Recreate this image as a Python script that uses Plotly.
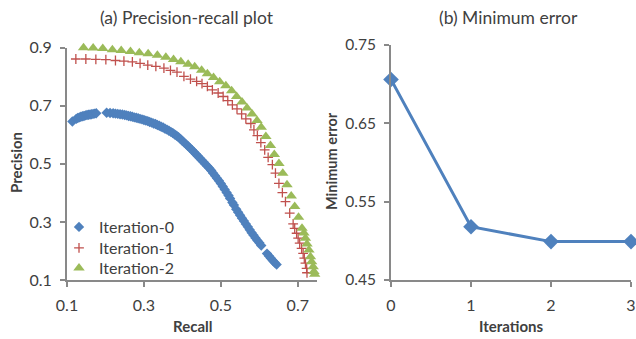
import plotly.graph_objects as go

# ---- data ----
it0_recall = [0.114, 0.124, 0.128, 0.132, 0.136, 0.140, 0.144, 0.148, 0.152, 0.156, 0.160, 0.164, 0.168, 0.172, 0.176,
              0.203, 0.212, 0.220, 0.226, 0.232, 0.238, 0.244, 0.250, 0.255, 0.260, 0.265, 0.270, 0.275, 0.280, 0.285,
              0.290, 0.295, 0.300, 0.305, 0.310, 0.315, 0.320, 0.325, 0.330, 0.335, 0.340, 0.345, 0.350, 0.355, 0.360,
              0.365, 0.370, 0.375, 0.380, 0.385, 0.390, 0.395, 0.400, 0.405, 0.410, 0.415, 0.420, 0.425, 0.430, 0.435,
              0.440, 0.445, 0.450, 0.455, 0.460, 0.465, 0.470, 0.475, 0.480, 0.485, 0.490, 0.495, 0.500, 0.505, 0.510,
              0.515, 0.520, 0.524, 0.530, 0.534, 0.540, 0.545, 0.550, 0.555, 0.560, 0.565, 0.570, 0.575, 0.580, 0.585,
              0.590, 0.595, 0.600, 0.605, 0.620, 0.625, 0.630, 0.635, 0.640, 0.645]
it0_precision = [0.646, 0.655, 0.658, 0.660, 0.662, 0.664, 0.665, 0.667, 0.668, 0.669, 0.670, 0.671, 0.672, 0.673, 0.674,
                 0.676, 0.675, 0.674, 0.673, 0.672, 0.671, 0.670, 0.668, 0.667, 0.665, 0.664, 0.662, 0.660, 0.659, 0.657,
                 0.655, 0.653, 0.651, 0.649, 0.647, 0.644, 0.642, 0.639, 0.637, 0.634, 0.631, 0.628, 0.625, 0.621, 0.618,
                 0.614, 0.610, 0.606, 0.601, 0.597, 0.592, 0.586, 0.579, 0.573, 0.567, 0.561, 0.554, 0.548, 0.541, 0.534,
                 0.527, 0.520, 0.513, 0.506, 0.499, 0.492, 0.485, 0.477, 0.468, 0.459, 0.450, 0.442, 0.432, 0.422, 0.412,
                 0.401, 0.391, 0.381, 0.367, 0.358, 0.344, 0.333, 0.323, 0.313, 0.303, 0.293, 0.283, 0.273, 0.263, 0.254,
                 0.245, 0.236, 0.228, 0.219, 0.191, 0.183, 0.175, 0.167, 0.160, 0.153]

it1_recall = [0.123, 0.149, 0.175, 0.201, 0.226, 0.248, 0.270, 0.290, 0.310, 0.331, 0.352, 0.369, 0.386, 0.404,
              0.421, 0.437, 0.451, 0.465, 0.478, 0.493, 0.506, 0.518, 0.530, 0.542, 0.554, 0.565, 0.578, 0.586,
              0.595, 0.604, 0.614, 0.623, 0.634, 0.642, 0.651, 0.660, 0.668, 0.679, 0.688, 0.692, 0.697, 0.701,
              0.705, 0.710, 0.714, 0.717, 0.720, 0.723, 0.724]
it1_precision = [0.861, 0.861, 0.860, 0.859, 0.856, 0.854, 0.851, 0.846, 0.840, 0.836, 0.830, 0.822, 0.816, 0.801,
                 0.792, 0.784, 0.776, 0.767, 0.755, 0.744, 0.732, 0.718, 0.703, 0.689, 0.672, 0.655, 0.639, 0.617,
                 0.597, 0.573, 0.548, 0.522, 0.497, 0.468, 0.433, 0.401, 0.370, 0.330, 0.293, 0.278, 0.261, 0.244,
                 0.227, 0.209, 0.192, 0.175, 0.158, 0.140, 0.125]

it2_recall = [0.118, 0.143, 0.168, 0.193, 0.218, 0.241, 0.265, 0.288, 0.311, 0.335, 0.357, 0.377, 0.396, 0.415,
              0.432, 0.450, 0.465, 0.481, 0.497, 0.513, 0.528, 0.541, 0.555, 0.568, 0.581, 0.594, 0.605, 0.617,
              0.629, 0.639, 0.651, 0.661, 0.672, 0.683, 0.692, 0.702, 0.711, 0.716, 0.720, 0.724, 0.729, 0.733,
              0.736, 0.740, 0.742, 0.744]
it2_precision = [0.901, 0.900, 0.899, 0.897, 0.893, 0.890, 0.887, 0.883, 0.879, 0.874, 0.867, 0.859, 0.852, 0.843,
                 0.834, 0.822, 0.810, 0.797, 0.783, 0.769, 0.752, 0.732, 0.713, 0.692, 0.672, 0.649, 0.626, 0.594,
                 0.563, 0.532, 0.501, 0.468, 0.428, 0.389, 0.353, 0.316, 0.278, 0.262, 0.244, 0.224, 0.203, 0.180,
                 0.163, 0.146, 0.129, 0.120]

iterations = [0, 1, 2, 3]
min_error = [0.706, 0.518, 0.499, 0.499]

x_ticks_a = [0.1, 0.3, 0.5, 0.7]
y_ticks_a = [0.1, 0.3, 0.5, 0.7, 0.9]
x_ticks_b = [0, 1, 2, 3]
y_ticks_b = [0.45, 0.55, 0.65, 0.75]

BLUE = "#4F81BD"
RED = "#C0504D"
GREEN = "#9BBB59"
FONT = "Lato"
TXT = "#404040"
AX = "#898989"

W, H = 636, 339
def px(x):
    return x / W
def py(y):
    return (H - y) / H

fig = go.Figure()
fig.add_trace(go.Scatter(x=it0_recall, y=it0_precision, mode="markers", name="Iteration-0",
                         marker=dict(symbol="diamond", size=8, color=BLUE), xaxis="x", yaxis="y",
                         cliponaxis=False, legend="legend"))
fig.add_trace(go.Scatter(x=it1_recall, y=it1_precision, mode="markers", name="Iteration-1",
                         marker=dict(symbol="cross-thin", size=7, color=RED, line=dict(color=RED, width=1.3)),
                         xaxis="x", yaxis="y", cliponaxis=False, legend="legend2"))
fig.add_trace(go.Scatter(x=it2_recall, y=it2_precision, mode="markers", name="Iteration-2",
                         marker=dict(symbol="triangle-up", size=10, color=GREEN), xaxis="x", yaxis="y",
                         cliponaxis=False, legend="legend3"))
fig.add_trace(go.Scatter(x=iterations, y=min_error, mode="lines+markers", showlegend=False,
                         line=dict(color=BLUE, width=3),
                         marker=dict(symbol="diamond", size=12, color=BLUE), xaxis="x2", yaxis="y2",
                         cliponaxis=False))

axis_common = dict(showgrid=False, zeroline=False, showline=True, linecolor=AX, linewidth=2,
                   ticks="outside", ticklen=5, tickcolor=AX, tickwidth=1.5, automargin=False)
tf16 = dict(family=FONT, size=16, color=TXT)
tf15 = dict(family=FONT, size=15.5, color=TXT)

def leg(top):
    return dict(x=px(59), y=py(top), xanchor="left", yanchor="top", bgcolor="rgba(0,0,0,0)",
                font=dict(family=FONT, size=16, color=TXT))

fig.update_layout(
    width=W, height=H, margin=dict(l=0, r=0, t=0, b=0, autoexpand=False),
    paper_bgcolor="white", plot_bgcolor="white",
    font=dict(family=FONT, color=TXT),
    xaxis=dict(domain=[px(67), px(317)], range=[0.1, 0.75], tickvals=x_ticks_a, ticklabelstandoff=5,
               ticktext=[f"{v:.1f}" for v in x_ticks_a], anchor="y", tickfont=tf16, **axis_common),
    yaxis=dict(domain=[py(280), py(47.7)], range=[0.1, 0.9], tickvals=y_ticks_a, ticklabelstandoff=5,
               ticktext=[f"{v:.1f}" for v in y_ticks_a], anchor="x", tickfont=tf16, **axis_common),
    xaxis2=dict(domain=[px(391), px(631)], range=[0, 3], tickvals=x_ticks_b, ticklabelstandoff=5,
                ticktext=[str(v) for v in x_ticks_b], anchor="y2", tickfont=tf16, **axis_common),
    yaxis2=dict(domain=[py(280), py(45)], range=[0.45, 0.75], tickvals=y_ticks_b, ticklabelstandoff=5,
                ticktext=[f"{v:.2f}" for v in y_ticks_b], anchor="x2", tickfont=tf15, **axis_common),
    legend=leg(210),
    legend2=leg(231),
    legend3=leg(251),
    showlegend=True,
)

anns = [
    dict(text="(a) Precision-recall plot", x=px(187), y=py(18), size=17.5, angle=0),
    dict(text="(b) Minimum error", x=px(508), y=py(18), size=17.5, angle=0),
    dict(text="<b>Recall</b>", x=px(192), y=py(326), size=15, angle=0),
    dict(text="<b>Iterations</b>", x=px(511), y=py(326), size=15, angle=0),
    dict(text="<b>Precision</b>", x=px(16), y=py(163), size=15, angle=-90),
    dict(text="<b>Minimum error</b>", x=px(331), y=py(161), size=14.5, angle=-90),
]
for a in anns:
    fig.add_annotation(text=a["text"], x=a["x"], y=a["y"], xref="paper", yref="paper",
                       xanchor="center", yanchor="middle", showarrow=False, textangle=a["angle"],
                       font=dict(family=FONT, size=a["size"], color=TXT))

fig.write_html("out.html", config={"displayModeBar": False},
               post_script="document.body.style.margin='0';document.body.style.overflow='hidden';")
